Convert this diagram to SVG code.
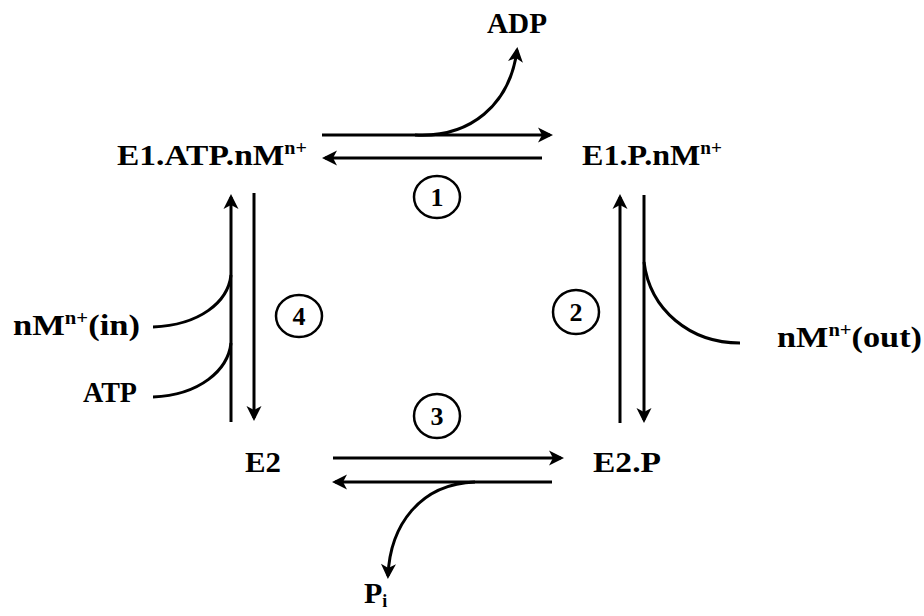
<svg xmlns="http://www.w3.org/2000/svg" width="924" height="616" viewBox="0 0 924 616">
  <defs>
    <marker id="ah" markerUnits="userSpaceOnUse" markerWidth="20" markerHeight="20" viewBox="-2 -10 20 20" refX="12" refY="0" orient="auto">
      <path d="M0,-7.5 L15,0 L0,7.5 L4,0 z" fill="#000"/>
    </marker>
  </defs>
  <style>
    .t { font-family: "Liberation Serif", "Times New Roman", serif; font-weight: bold; font-size: 30px; fill: #000; }
    .sup { font-size: 18px; }
    .num { font-family: "Liberation Serif", "Times New Roman", serif; font-weight: bold; font-size: 26px; fill: #000; text-anchor: middle; }
    .ln { fill: none; stroke: #000; stroke-width: 3; }
    .ar { fill: none; stroke: #000; stroke-width: 3; marker-end: url(#ah); }
    .circ { fill: none; stroke: #000; stroke-width: 2.5; }
  </style>
  <rect width="924" height="616" fill="#fff"/>

  <g id="connectors">
    <!-- step 1 -->
    <line class="ar" x1="322" y1="135" x2="550" y2="135"/>
    <line class="ar" x1="542" y1="158" x2="325" y2="158"/>
    <path class="ar" d="M415,135 C470,138 510,105 517,50"/>
    <!-- step 2 -->
    <line class="ar" x1="620" y1="423" x2="620" y2="197"/>
    <line class="ar" x1="644" y1="195" x2="644" y2="420"/>
    <path class="ln" d="M644,262 C650,310 690,343 740,343"/>
    <!-- step 3 -->
    <line class="ar" x1="333" y1="458" x2="561" y2="458"/>
    <line class="ar" x1="552" y1="482" x2="335" y2="482"/>
    <path class="ar" d="M475,482 C420,484 390,525 388,576"/>
    <!-- step 4 -->
    <line class="ar" x1="231" y1="422" x2="231" y2="197"/>
    <line class="ar" x1="254" y1="193" x2="254" y2="418"/>
    <path class="ln" d="M153,327 C200,325 228,302 231,275"/>
    <path class="ln" d="M153,397 C200,395 228,370 231,343"/>
  </g>

  <g id="node-e1atp">
    <text class="t" x="117" y="165" textLength="190" lengthAdjust="spacingAndGlyphs">E1.ATP.nM<tspan class="sup" dy="-11">n+</tspan></text>
  </g>
  <g id="node-e1p">
    <text class="t" x="582" y="165" textLength="140" lengthAdjust="spacingAndGlyphs">E1.P.nM<tspan class="sup" dy="-11">n+</tspan></text>
  </g>
  <g id="node-e2">
    <text class="t" x="245" y="472" textLength="36" lengthAdjust="spacingAndGlyphs">E2</text>
  </g>
  <g id="node-e2p">
    <text class="t" x="593" y="472" textLength="68" lengthAdjust="spacingAndGlyphs">E2.P</text>
  </g>
  <g id="node-adp">
    <text class="t" x="487" y="33" textLength="60" lengthAdjust="spacingAndGlyphs">ADP</text>
  </g>
  <g id="node-pi">
    <text class="t" x="364" y="603">P<tspan class="sup" dy="4">i</tspan></text>
  </g>
  <g id="node-min">
    <text class="t" x="13" y="335" textLength="127" lengthAdjust="spacingAndGlyphs">nM<tspan class="sup" dy="-11">n+</tspan><tspan dy="11">(in)</tspan></text>
  </g>
  <g id="node-atp">
    <text class="t" x="83" y="402" textLength="54" lengthAdjust="spacingAndGlyphs">ATP</text>
  </g>
  <g id="node-mout">
    <text class="t" x="777" y="347" textLength="145" lengthAdjust="spacingAndGlyphs">nM<tspan class="sup" dy="-11">n+</tspan><tspan dy="11">(out)</tspan></text>
  </g>

  <g id="step-1">
    <ellipse class="circ" cx="437" cy="197" rx="23" ry="21"/>
    <text class="num" x="437" y="206">1</text>
  </g>
  <g id="step-2">
    <ellipse class="circ" cx="576" cy="312" rx="23" ry="22"/>
    <text class="num" x="576" y="321">2</text>
  </g>
  <g id="step-3">
    <ellipse class="circ" cx="437" cy="416" rx="23" ry="22"/>
    <text class="num" x="437" y="425">3</text>
  </g>
  <g id="step-4">
    <ellipse class="circ" cx="299" cy="316" rx="23" ry="21"/>
    <text class="num" x="299" y="325">4</text>
  </g>
</svg>
